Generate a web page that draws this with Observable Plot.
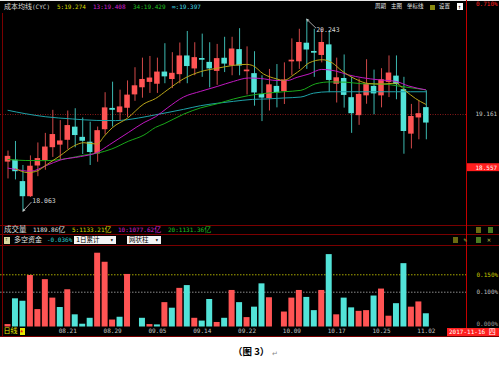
<!DOCTYPE html>
<html><head><meta charset="utf-8">
<script src="https://cdn.jsdelivr.net/npm/d3@7"></script>
<script src="https://cdn.jsdelivr.net/npm/@observablehq/plot@0.6"></script>
<style>
body{margin:0;background:#fff;}
#wrap{position:relative;width:499px;height:367px;overflow:hidden;background:#fff;font-family:'DejaVu Sans Mono','Noto Sans CJK SC',monospace;}
.t{position:absolute;white-space:nowrap;line-height:1;transform:translateY(-50%);}
.b{position:absolute;}
#p1,#p2{position:absolute;left:0;}
#p1{top:0}#p2{top:246px}
</style></head><body>
<div id="wrap">
 <div class="b" style="left:0;top:0;width:499px;height:337px;background:#000"></div>
 <div class="b" style="left:0;top:0;width:499px;height:1px;background:#e8e8e8"></div>
 <div id="p1"></div><div id="p2"></div>
</div>
<script>
// ---------- data ----------
const open  = [18.626,18.637,18.393,18.233,18.582,18.644,18.790,18.819,18.874,19.012,18.896,18.841,18.718,18.994,19.225,19.187,19.238,19.390,19.471,19.532,19.511,19.638,19.565,19.620,19.821,19.685,19.792,19.748,19.657,19.795,19.718,19.893,19.653,19.620,19.384,19.347,19.475,19.428,19.765,19.766,19.966,19.872,19.838,19.947,19.511,19.565,19.347,19.154,19.379,19.475,19.379,19.532,19.592,19.438,18.944,19.128,19.234];
const high  = [18.746,18.855,18.582,18.691,18.838,18.947,19.209,19.092,19.201,19.227,19.122,19.074,19.019,19.409,19.529,19.438,19.543,19.693,19.802,19.821,19.802,19.966,19.864,19.974,20.105,19.977,20.075,19.977,19.958,20.039,20.039,20.137,19.930,19.875,19.602,19.674,19.729,19.748,20.021,20.130,20.243,20.130,20.130,20.111,19.802,19.838,19.584,19.565,19.784,19.666,19.682,19.827,19.827,19.584,19.276,19.311,19.431];
const low   = [18.429,18.418,18.063,18.218,18.455,18.528,18.674,18.637,18.765,18.783,18.707,18.582,18.619,18.928,19.019,19.092,19.128,19.311,19.347,19.401,19.401,19.511,19.456,19.511,19.511,19.602,19.584,19.464,19.493,19.638,19.602,19.602,19.384,19.256,19.081,19.201,19.237,19.275,19.602,19.674,19.674,19.584,19.748,19.409,19.292,19.234,18.947,19.038,19.278,19.158,19.237,19.354,19.329,18.710,18.770,18.874,18.874];
const close = [18.680,18.517,18.233,18.568,18.655,18.786,18.928,18.855,19.030,18.928,18.863,18.735,18.972,19.231,19.215,19.242,19.376,19.482,19.554,19.570,19.638,19.595,19.624,19.821,19.712,19.802,19.784,19.685,19.791,19.740,19.900,19.718,19.661,19.412,19.354,19.493,19.412,19.548,19.773,19.974,19.900,19.864,19.974,19.554,19.573,19.384,19.176,19.384,19.500,19.401,19.551,19.627,19.507,18.974,19.133,19.165,19.070];

// cost moving averages: [candle index, value]
const cyc5 = [[1,18.546],[2.6,18.502],[3.7,18.513],[5.25,18.595],[7,18.694],[8.8,18.803],[10.15,18.841],[11.9,18.825],[12.9,18.917],[13.95,19.010],[16,19.120],[18.2,19.283],[19.75,19.343],[21.3,19.438],[23.5,19.567],[25.8,19.649],[28,19.687],[30.2,19.720],[31.9,19.731],[32.7,19.720],[34.2,19.622],[36,19.565],[36.9,19.548],[38.3,19.616],[39.2,19.671],[40.3,19.748],[42.1,19.784],[43.4,19.748],[44.7,19.657],[46.5,19.565],[48.3,19.513],[50.1,19.507],[51.9,19.518],[53.2,19.431],[54.55,19.343],[55.9,19.278]];
const cyc13 = [[0,18.552],[1.2,18.535],[3,18.516],[5.15,18.582],[7,18.644],[9.7,18.683],[11.9,18.729],[13.6,18.819],[16.1,18.956],[18.2,19.070],[19.75,19.136],[21.3,19.234],[23.5,19.360],[25.8,19.425],[28,19.480],[30.2,19.538],[32.2,19.576],[33.8,19.571],[36,19.548],[37.4,19.548],[38.7,19.584],[40.3,19.622],[42,19.674],[43.8,19.657],[45.6,19.611],[47.4,19.580],[49.6,19.556],[51.9,19.538],[53.65,19.485],[55.9,19.442]];
const cyc34 = [[0,18.650],[2.3,18.639],[5,18.637],[8.1,18.664],[10.15,18.699],[11.9,18.721],[13.9,18.770],[16.1,18.857],[18.2,18.928],[19.75,19.015],[20.9,19.056],[23.5,19.165],[25.8,19.237],[28,19.283],[30.2,19.338],[32.2,19.376],[33.8,19.396],[36.9,19.420],[39.2,19.436],[41.2,19.511],[43.2,19.532],[45.2,19.529],[47.4,19.511],[50.3,19.507],[52.5,19.482],[55.9,19.442]];
const cycInf = [[0,19.209],[2.3,19.171],[5,19.136],[8.6,19.111],[11.9,19.094],[14.4,19.092],[17.5,19.122],[19.75,19.158],[21.3,19.183],[23.5,19.220],[25.8,19.262],[28,19.289],[30.2,19.311],[32.7,19.333],[34.7,19.338],[36.9,19.349],[39.2,19.360],[40.9,19.404],[43,19.420],[47.4,19.420],[51.9,19.420],[55.9,19.420]];

// 多空资金 bars (%), side: 1 = red, -1 = cyan
const flow = [0.007,0.081,0.074,0.148,0.050,0.136,0.083,0.056,0.107,0.035,0.008,0.025,0.212,0.186,0.020,0.028,0.151,0,0.025,0.007,0.006,0.070,0.054,0.111,0.119,0.025,0.017,0.079,0.013,0.025,0.105,0.070,0.027,0.057,0.124,0.084,0,0.043,0.083,0.105,0.085,0.047,0.105,0.208,0.035,0.083,0.055,0.045,0.047,0.089,0.109,0.031,0.067,0.182,0.057,0.072,0.038];
const flowSide = [1,-1,-1,1,1,1,1,-1,1,-1,-1,-1,1,1,1,-1,1,1,-1,1,-1,1,-1,1,-1,1,-1,-1,1,-1,1,-1,1,-1,-1,1,1,1,1,1,-1,-1,1,-1,1,-1,-1,1,1,-1,1,1,-1,-1,1,1,-1];

const dateTicks = [8,14,20,26,32,38,44,50,56];
const dateLabels = ["08.21","08.29","09.05","09.14","09.22","10.09","10.17","10.25","11.02"];
const refPrice = 19.161;
const lowMark = 18.557;
const flowTicks = [0.15, 0.10, 0];

// ---------- styles ----------
const RED = "#ff5454", CYAN = "#52e3d8";
const WRED = "#d04848", WCYAN = "#3cb8b0";
const X_DOMAIN = [-1.004, 61.51];
const FONT = "'DejaVu Sans Mono','Noto Sans CJK SC',monospace";

const candles = open.map((o, i) => ({i, open: o, high: high[i], low: low[i], close: close[i]}));
const up = d => d.close >= d.open;
const hiIdx = high.indexOf(Math.max(...high));
const loIdx = low.indexOf(Math.min(...low));
const hiPt = {i: hiIdx, v: high[hiIdx]};
const loPt = {i: loIdx, v: low[loIdx]};
const flowData = flow.map((v, i) => ({i, v, s: flowSide[i]}));

const p1 = Plot.plot({
  width: 499, height: 225,
  marginLeft: 0, marginRight: 32, marginTop: 0, marginBottom: 0,
  style: {background: "transparent", fontFamily: FONT, fontSize: "6px", overflow: "visible"},
  x: {domain: X_DOMAIN, axis: null},
  y: {domain: [17.9, 20.457], axis: null},
  marks: [
    Plot.ruleY([refPrice], {stroke: "#8a1a1a", strokeDasharray: "1,1.5"}),
    Plot.ruleX(candles, {x: "i", y1: "low", y2: "high", stroke: d => up(d) ? WRED : WCYAN}),
    Plot.rect(candles, {x1: d => d.i - 0.37, x2: d => d.i + 0.37, y1: "open", y2: "close",
      fill: d => up(d) ? RED : CYAN, insetTop: -0.5, insetBottom: -0.5}),
    Plot.line(cycInf, {x: d => d[0], y: d => d[1], stroke: "#1ea2a8", strokeWidth: 1, curve: "monotone-x"}),
    Plot.line(cyc34, {x: d => d[0], y: d => d[1], stroke: "#1aa81a", strokeWidth: 1, curve: "monotone-x"}),
    Plot.line(cyc13, {x: d => d[0], y: d => d[1], stroke: "#c018c0", strokeWidth: 1, curve: "monotone-x"}),
    Plot.line(cyc5, {x: d => d[0], y: d => d[1], stroke: "#b8a418", strokeWidth: 1, curve: "monotone-x"}),
    Plot.arrow([hiPt], {x1: d => d.i + 1.2, y1: d => d.v - 0.098, x2: "i", y2: "v", stroke: "#cfcfcf", strokeWidth: 0.8, headLength: 4, headAngle: 50}),
    Plot.text([hiPt], {x: d => d.i + 1.25, y: d => d.v - 0.124, text: d => d.v.toFixed(3), textAnchor: "start", fill: "#d6d6d6", fontSize: 6.5}),
    Plot.arrow([loPt], {x1: d => d.i + 1.1, y1: d => d.v + 0.1, x2: "i", y2: "v", stroke: "#cfcfcf", strokeWidth: 0.8, headLength: 4, headAngle: 50}),
    Plot.text([loPt], {x: d => d.i + 1.25, y: d => d.v + 0.119, text: d => d.v.toFixed(3), textAnchor: "start", fill: "#d6d6d6", fontSize: 6.5}),
    Plot.axisY([refPrice], {anchor: "right", label: null, tickSize: 0, tickPadding: 8, tickFormat: d => d.toFixed(3), color: "#c8c8c8"}),
    Plot.rect([lowMark], {x1: X_DOMAIN[1], x2: X_DOMAIN[1] + 4.3, y1: d => d - 0.045, y2: d => d + 0.045, fill: "#ff1e1e"}),
    Plot.axisY([lowMark], {anchor: "right", label: null, tickSize: 0, tickPadding: 8, tickFormat: d => d.toFixed(3), color: "#ffffff"})
  ]
});
document.getElementById("p1").appendChild(p1);

const p2 = Plot.plot({
  width: 499, height: 91,
  marginLeft: 0, marginRight: 32, marginTop: 0, marginBottom: 10.5,
  style: {background: "transparent", fontFamily: FONT, fontSize: "6px", overflow: "visible"},
  x: {domain: X_DOMAIN, axis: null},
  y: {domain: [0, 0.2313], axis: null},
  marks: [
    Plot.ruleY([flowTicks[0]], {stroke: "#a8a800", strokeDasharray: "1.5,1.5"}),
    Plot.ruleY([flowTicks[1]], {stroke: "#8c8c8c", strokeDasharray: "1.5,1.5"}),
    Plot.rect(flowData, {x1: d => d.i - 0.4, x2: d => d.i + 0.4, y1: 0, y2: "v", fill: d => d.s > 0 ? RED : CYAN}),
    Plot.axisY([flowTicks[0]], {anchor: "right", label: null, tickSize: 0, tickPadding: 9, tickFormat: d => d.toFixed(3) + "%", color: "#c8c800"}),
    Plot.axisY([flowTicks[1]], {anchor: "right", label: null, tickSize: 0, tickPadding: 9, tickFormat: d => d.toFixed(3) + "%", color: "#bdbdbd"}),
    Plot.axisY([flowTicks[2]], {anchor: "right", label: null, tickSize: 0, tickPadding: 9, dy: -3, tickFormat: d => d.toFixed(3) + "%", color: "#9a9a9a"}),
    Plot.axisX(dateTicks, {anchor: "bottom", label: null, tickSize: 0, tickPadding: 1.5, tickFormat: d => dateLabels[dateTicks.indexOf(d)], color: "#c4c4c4"})
  ]
});
document.getElementById("p2").appendChild(p2);

// ---------- chrome: frame lines, header rows, caption ----------
const wrap = document.getElementById("wrap");
function B(x, y, w, h, bg, extra) {
  const e = document.createElement("div"); e.className = "b";
  Object.assign(e.style, {left: x + "px", top: y + "px", width: w + "px", height: h + "px", background: bg}, extra || {});
  wrap.appendChild(e); return e;
}
function T(x, y, html, color, size, extra) {
  const e = document.createElement("span"); e.className = "t";
  Object.assign(e.style, {left: x + "px", top: y + "px", color, fontSize: size + "px"}, extra || {});
  e.innerHTML = html; wrap.appendChild(e); return e;
}
const DR = "#7a0000";
B(2, 13, 1, 323, DR);
B(0, 225, 499, 1, DR);
B(0, 234, 499, 1, DR);
B(0, 245, 499, 1, DR);
B(0, 336, 499, 1, DR);
B(466, 0, 1, 336, "#c40000");

// header
const cjk = s => `<span style="font-size:7px">${s}</span>`;
T(4, 6.5, `成本均线<span style="font-size:6px">(CYC)</span>`, "#d8d8d8", 7);
T(57, 6.5, "5:19.274", "#d8d800", 6);
T(93, 6.5, "13:19.408", "#d020d0", 6);
T(133, 6.5, "34:19.429", "#20c020", 6);
T(172, 6.5, "∞:19.397", "#40d8e8", 6);
T(375, 7, "周期", "#e8e8e8", 5.5);
T(391, 7, "主图", "#e8e8e8", 5.5);
T(407, 7, "坐标线", "#e8e8e8", 5.5);
B(430, 4.5, 5, 5, "#8a8a10");
T(439, 7, "设置", "#e8e8e8", 5.5);
B(457, 3, 6, 7, "#fff");
T(457.8, 6.8, "↑", "#000", 6);
T(476, 3.5, "0.710%", "#ff2020", 6);

// row 1: 成交量
T(4, 229.7, "成交量", "#d8d8d8", 7.5);
T(33, 229.7, "1189.86" + cjk("亿"), "#e0e0e0", 6);
T(72, 229.7, "5:1133.21" + cjk("亿"), "#d8d800", 6);
T(118, 229.7, "10:1077.62" + cjk("亿"), "#d020d0", 6);
T(168, 229.7, "20:1131.36" + cjk("亿"), "#20c020", 6);
B(476, 226.5, 5, 6, "#6a6a10");
B(487.5, 226.5, 5, 6, "#4a7a20");

// row 2: 多空资金
B(4, 236.5, 6, 7, "#d8d8a0");
T(4.7, 240.2, "↑", "#553", 5.5);
T(14, 240, "多空资金", "#e0e0e0", 7);
T(47, 240, "-0.036%", "#30d0d0", 6);
B(74, 236, 42, 8, "#f4f4f4");
T(76, 240.2, "1日累计", "#000", 6.5);
T(110, 240.2, "▾", "#000", 6);
B(127, 236, 34, 8, "#f4f4f4");
T(129, 240.2, "网状柱", "#000", 6.5);
T(155, 240.2, "▾", "#000", 6);
B(452.5, 237, 5, 6, "#6a6a10");
T(463.5, 240, "✎", "#b0b040", 6);
B(476, 237, 5, 6, "#4a7a20");
T(487, 240, "✕", "#b0b040", 6.5);

// bottom date row
T(3.5, 331, "日线", "#e8e800", 7);
B(20, 327.5, 5, 7, "#e8e800");
T(20.3, 331.2, "▲", "#e02020", 4.5);
B(447, 327.5, 52, 8, "#ff2020");
T(449, 331.5, "2017-11-16 " + cjk("四"), "#ffffff", 6);

// caption
T(233, 352.3, "（图 3）", "#000", 9.5, {fontWeight: "bold", fontFamily: "'Noto Sans CJK SC',sans-serif"});
T(272, 353.5, "↵", "#888", 7, {fontFamily: "'DejaVu Sans',sans-serif"});
</script>
</body></html>
